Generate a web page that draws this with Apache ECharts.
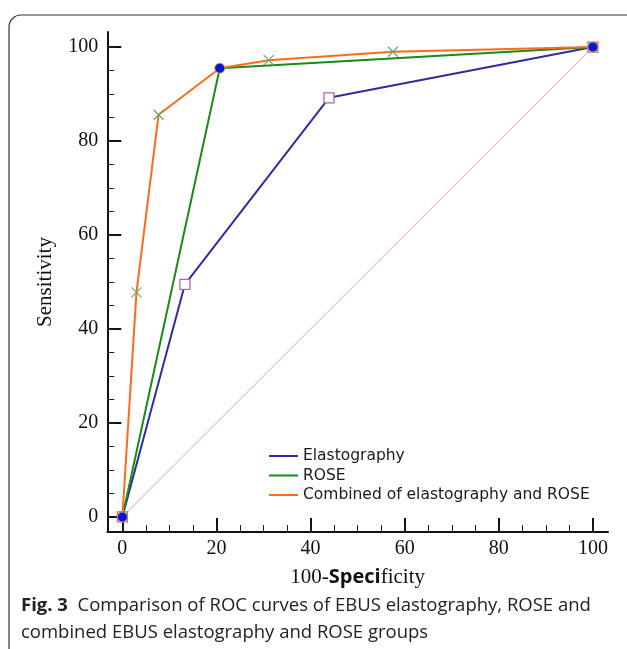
<!DOCTYPE html>
<html><head><meta charset="utf-8">
<script src="https://cdn.jsdelivr.net/npm/echarts@6/dist/echarts.min.js"></script>
<style>html,body{margin:0;padding:0;background:#fff}#c{width:627px;height:649px}</style>
</head><body><div id="c"></div>
<script>
// Data
const seriesNames = ['Elastography', 'ROSE', 'Combined of elastography and ROSE'];
const elastoX = [0, 13.3, 43.9, 100];
const elastoY = [0, 49.5, 89.2, 100];
const roseX = [0, 20.7, 100];
const roseY = [0, 95.5, 100];
const combX = [0, 3.0, 7.7, 20.7, 31.1, 57.5, 100];
const combY = [0, 47.8, 85.6, 95.5, 97.2, 99.0, 100];
const refX = [0, 100];
const refY = [0, 100];
const majorTicks = [0, 20, 40, 60, 80, 100];
const minorTicks = [0,5,10,15,20,25,30,35,40,45,50,55,60,65,70,75,80,85,90,95,100];

const pts = (xs, ys) => xs.map((x, i) => [x, ys[i]]);
const combMarkIdx = [1, 2, 4, 5];

const chart = echarts.init(document.getElementById('c'));
const serif = '"Liberation Serif", "DejaVu Serif", serif';
const sansCap = '"Open Sans", "Noto Sans", sans-serif';
const AX_MIN = -3.2, AX_MAX = 103.2;

function mainAxis(isX) {
  return {
    type: 'value', min: AX_MIN, max: AX_MAX,
    axisLine: { show: true, onZero: false, lineStyle: { color: '#111', width: 2 } },
    axisTick: { show: true, inside: true, length: 14, customValues: majorTicks, lineStyle: { color: '#111', width: 2 } },
    axisLabel: { show: true, customValues: majorTicks, margin: isX ? 7 : 9, color: '#111', fontFamily: serif, fontSize: 20 },
    splitLine: { show: false }
  };
}
function minorAxis() {
  return {
    type: 'value', min: AX_MIN, max: AX_MAX,
    axisLine: { show: false, onZero: false },
    axisTick: { show: true, inside: true, length: 7, customValues: minorTicks, lineStyle: { color: '#222', width: 1 } },
    axisLabel: { show: false },
    splitLine: { show: false }
  };
}
const xMain = mainAxis(true);
xMain.name = '{a|100-}{b|Speci}{a|ficity}';
xMain.nameLocation = 'middle';
xMain.nameGap = 35;
xMain.nameTextStyle = { rich: {
  a: { fontFamily: serif, fontSize: 21, color: '#111' },
  b: { fontFamily: sansCap, fontWeight: 'bold', fontSize: 20, color: '#111' }
}};
const yMain = mainAxis(false);
yMain.name = 'Sensitivity';
yMain.nameLocation = 'middle';
yMain.nameGap = 51;
yMain.nameTextStyle = { fontFamily: serif, fontSize: 21, color: '#111' };

const xMinor = minorAxis(); xMinor.position = 'bottom';
const yMinor = minorAxis(); yMinor.position = 'left';

const option = {
  animation: false,
  backgroundColor: '#fff',
  grid: { left: 107.3, right: 19, top: 32, bottom: 117, containLabel: false },
  xAxis: [xMain, xMinor],
  yAxis: [yMain, yMinor],
  legend: {
    data: seriesNames,
    orient: 'vertical', left: 264, top: 443,
    icon: 'rect', itemWidth: 29, itemHeight: 2, itemGap: 3.5,
    textStyle: { fontFamily: '"DejaVu Sans", sans-serif', fontSize: 15.5, color: '#1a1a1a' }
  },
  graphic: [
    { type: 'rect', shape: { x: 9, y: 15, width: 640, height: 700, r: 12 },
      style: { fill: 'none', stroke: '#333', lineWidth: 1.2 }, silent: true },
    { type: 'text', left: 21, top: 592,
      style: { text: '{b|Fig. 3}  Comparison of ROC curves of EBUS elastography, ROSE and\ncombined EBUS elastography and ROSE groups',
        rich: { b: { fontWeight: 'bold', fontFamily: sansCap, fontSize: 18.5, fill: '#222' } },
        fontFamily: sansCap, fontSize: 18.5, lineHeight: 27, fill: '#222' } }
  ],
  series: [
    { type: 'line', data: pts(refX, refY), symbol: 'none', silent: true,
      lineStyle: { color: '#e2a59c', width: 1 }, z: 1 },
    { name: seriesNames[0], type: 'line', data: pts(elastoX, elastoY), symbol: 'none',
      lineStyle: { color: '#2e2e9a', width: 2 }, itemStyle: { color: '#2e2e9a' }, z: 2 },
    { name: seriesNames[1], type: 'line', data: pts(roseX, roseY), symbol: 'none',
      lineStyle: { color: '#1a8a1a', width: 2 }, itemStyle: { color: '#1a8a1a' }, z: 3 },
    { name: seriesNames[2], type: 'line', data: pts(combX, combY), symbol: 'none',
      lineStyle: { color: '#ff6a1c', width: 2 }, itemStyle: { color: '#ff6a1c' }, z: 4 },
    { type: 'scatter', data: pts(elastoX, elastoY), symbol: 'rect', symbolSize: 10, silent: true,
      itemStyle: { color: '#fff', borderColor: '#b5689a', borderWidth: 1.3, opacity: 1 }, z: 5 },
    { type: 'scatter', data: combMarkIdx.map(i => [combX[i], combY[i]]),
      symbol: 'path://M0,0L10,10M10,0L0,10', symbolSize: 10, silent: true,
      itemStyle: { color: 'transparent', borderColor: '#6aa86a', borderWidth: 1.2, opacity: 1 }, z: 6 },
    { type: 'scatter', data: pts(roseX, roseY), symbol: 'circle', symbolSize: 10, silent: true,
      itemStyle: { color: '#0a14d8', borderColor: '#b8a040', borderWidth: 1, opacity: 1 }, z: 7 }
  ]
};
chart.setOption(option);
</script></body></html>
